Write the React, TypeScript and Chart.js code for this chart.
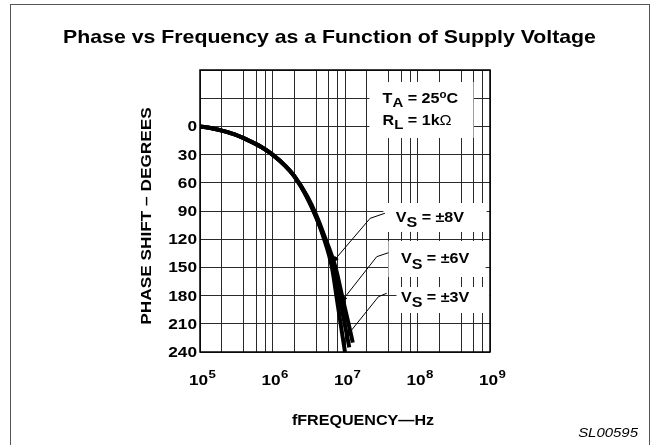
import React, { useEffect, useRef } from 'react';
import { Chart, registerables } from 'chart.js';

Chart.register(...registerables);

// ---------- data ----------
const xTickExponents = [5, 6, 7, 8, 9];
const xGridMantissas = [1, 2, 4, 6, 8];
const yTickValues = [0, 30, 60, 90, 120, 150, 180, 210, 240];

const freqSupply3 = [1e5, 1.5e5, 2e5, 3e5, 4e5, 5e5, 7e5, 1e6, 1.5e6, 2e6, 3e6, 4e6, 5e6, 6.6e6, 7.6e6, 8.7e6, 1.0e7];
const phaseSupply3 = [0, 2.3, 4.5, 8.5, 12.5, 16, 22, 30, 42, 53, 76, 97, 117, 150, 180, 210, 240];

const freqSupply6 = [1e5, 1.5e5, 2e5, 3e5, 4e5, 5e5, 7e5, 1e6, 1.5e6, 2e6, 3e6, 4e6, 5e6, 7.0e6, 8.35e6, 9.9e6, 1.145e7];
const phaseSupply6 = [0, 2.3, 4.5, 8.5, 12.5, 16, 22, 30, 42, 53, 75, 96, 115, 150, 180, 210, 235];

const freqSupply8 = [1e5, 1.5e5, 2e5, 3e5, 4e5, 5e5, 7e5, 1e6, 1.5e6, 2e6, 3e6, 4e6, 5e6, 7.4e6, 9.1e6, 1.12e7, 1.28e7];
const phaseSupply8 = [0, 2.3, 4.5, 8.5, 12.5, 16, 22, 30, 42, 53, 74, 94, 113, 150, 180, 210, 230];

const titleText = 'Phase vs Frequency as a Function of Supply Voltage';
const yTitleText = 'PHASE SHIFT – DEGREES';
const xTitleText = 'fFREQUENCY—Hz';
const figureId = 'SL00595';

// annotation boxes (data coordinates: frequency, degrees)
const labelBoxes = [
  { f0: 2.17e7, f1: 5.93e8, d0: -47.2, d1: 12.3 },
  { f0: 3.39e7, f1: 8.98e8, d0: 81.5, d1: 112.3 },
  { f0: 3.97e7, f1: 8.7e8, d0: 121.9, d1: 160.2 },
  { f0: 5.13e7, f1: 9.9e8, d0: 170.9, d1: 198.5 },
];

const supplyLabels = [
  { value: '±8V', text: [5.0e7, 101.7], start: [3.55e7, 92.4], bend: [2.22e7, 97.8], tip: [6.5e6, 146] },
  { value: '±6V', text: [5.9e7, 145.6], start: [3.97e7, 134.4], bend: [2.74e7, 138.6], tip: [8.6e6, 188] },
  { value: '±3V', text: [5.9e7, 186.5], start: [3.76e7, 177.5], bend: [2.89e7, 181.2], tip: [1.0e7, 225.4] },
];

const condTA = { pos: [3.3e7, -24.9] };
const condRL = { pos: [3.3e7, -1.5] };

// ---------- helpers ----------
const FONT = '"Liberation Sans", Arial, Helvetica, sans-serif';
const STRETCH = 1.15;

type Seg = { t: string; size: number; dy?: number; bold?: boolean; italic?: boolean };

function fontStr(size: number, bold = true, italic = false) {
  return `${italic ? 'italic ' : ''}${bold ? 'bold ' : ''}${size}px ${FONT}`;
}

function textWidth(ctx: CanvasRenderingContext2D, s: string, size: number, bold = true, italic = false) {
  ctx.save();
  ctx.font = fontStr(size, bold, italic);
  const w = ctx.measureText(s).width * STRETCH;
  ctx.restore();
  return w;
}

function drawText(
  ctx: CanvasRenderingContext2D,
  s: string,
  x: number,
  y: number,
  size: number,
  opts: { bold?: boolean; italic?: boolean; align?: CanvasTextAlign; color?: string } = {}
) {
  const { bold = true, italic = false, align = 'left', color = '#000' } = opts;
  ctx.save();
  ctx.translate(x, y);
  ctx.scale(STRETCH, 1);
  ctx.font = fontStr(size, bold, italic);
  ctx.fillStyle = color;
  ctx.textAlign = align;
  ctx.textBaseline = 'alphabetic';
  ctx.fillText(s, 0, 0);
  ctx.restore();
}

function drawSegs(ctx: CanvasRenderingContext2D, segs: Seg[], x: number, y: number) {
  let cx = x;
  for (const sg of segs) {
    const bold = sg.bold !== false;
    drawText(ctx, sg.t, cx, y + (sg.dy || 0), sg.size, { bold });
    cx += textWidth(ctx, sg.t, sg.size, bold);
  }
}

function arrowHead(ctx: CanvasRenderingContext2D, fx: number, fy: number, tx: number, ty: number) {
  const ang = Math.atan2(ty - fy, tx - fx);
  const len = 8;
  const hw = 2.6;
  ctx.save();
  ctx.translate(tx, ty);
  ctx.rotate(ang);
  ctx.beginPath();
  ctx.moveTo(0, 0);
  ctx.lineTo(-len, -hw);
  ctx.lineTo(-len, hw);
  ctx.closePath();
  ctx.fillStyle = '#000';
  ctx.fill();
  ctx.restore();
}

const decoPlugin = {
  id: 'deco',
  beforeDraw(chart: any) {
    const { ctx, width, height } = chart;
    ctx.save();
    ctx.fillStyle = '#fff';
    ctx.fillRect(0, 0, width, height);
    ctx.restore();
  },
  afterDraw(chart: any) {
    const { ctx, chartArea: ca } = chart;
    const xs = chart.scales.x;
    const ys = chart.scales.y;
    const px = (f: number) => xs.getPixelForValue(f);
    const py = (d: number) => ys.getPixelForValue(d);

    // white label boxes over the grid
    ctx.save();
    ctx.fillStyle = '#fff';
    for (const b of labelBoxes) {
      const x0 = px(b.f0), x1 = px(b.f1), y0 = py(b.d0), y1 = py(b.d1);
      ctx.fillRect(x0, y0, x1 - x0, y1 - y0);
    }
    ctx.restore();

    // plot frame
    ctx.save();
    ctx.strokeStyle = '#000';
    ctx.lineWidth = 1.5;
    ctx.strokeRect(ca.left, ca.top, ca.right - ca.left, ca.bottom - ca.top);
    ctx.restore();

    // outer figure frame
    ctx.save();
    ctx.strokeStyle = '#555';
    ctx.lineWidth = 1;
    ctx.strokeRect(10.5, 4.5, 639, 470);
    ctx.restore();

    // title
    drawText(ctx, titleText, 329.5, 43, 18.5, { align: 'center' });

    // y tick labels
    for (const v of yTickValues) {
      drawText(ctx, String(v), ca.left - 3, py(v) + 5, 15, { align: 'right' });
    }

    // x tick labels 10^n
    for (const e of xTickExponents) {
      const cx = px(Math.pow(10, e)) - 1.5;
      const w = textWidth(ctx, '10', 15);
      drawText(ctx, '10', cx, 385, 15, { align: 'center' });
      drawText(ctx, String(e), cx + w / 2 + 0.5, 377.5, 11.5, { align: 'left' });
    }

    // axis titles
    ctx.save();
    ctx.translate(151, 216);
    ctx.rotate(-Math.PI / 2);
    ctx.scale(STRETCH, 1);
    ctx.font = fontStr(15);
    ctx.fillStyle = '#000';
    ctx.textAlign = 'center';
    ctx.textBaseline = 'alphabetic';
    ctx.fillText(yTitleText, 0, 0);
    ctx.restore();

    drawText(ctx, xTitleText, 363, 425, 14, { align: 'center' });
    drawText(ctx, figureId, 638, 437, 13, { align: 'right', bold: false, italic: true });

    // conditions
    drawSegs(ctx, [
      { t: 'T', size: 14 },
      { t: 'A', size: 13, dy: 4 },
      { t: ' = 25', size: 14 },
      { t: 'o', size: 10, dy: -5 },
      { t: 'C', size: 14 },
    ], px(condTA.pos[0]), py(condTA.pos[1]));
    drawSegs(ctx, [
      { t: 'R', size: 14 },
      { t: 'L', size: 13, dy: 4.5 },
      { t: ' = 1k', size: 14 },
      { t: 'Ω', size: 14, bold: false },
    ], px(condRL.pos[0]), py(condRL.pos[1]));

    // supply voltage labels with leaders
    ctx.save();
    ctx.strokeStyle = '#000';
    ctx.lineWidth = 1;
    for (const s of supplyLabels) {
      const sx = px(s.start[0]), sy = py(s.start[1]);
      const bx = px(s.bend[0]), by = py(s.bend[1]);
      const tx = px(s.tip[0]), ty = py(s.tip[1]);
      ctx.beginPath();
      ctx.moveTo(sx, sy);
      ctx.lineTo(bx, by);
      ctx.lineTo(tx, ty);
      ctx.stroke();
      arrowHead(ctx, bx, by, tx, ty);
      drawSegs(ctx, [
        { t: 'V', size: 14 },
        { t: 'S', size: 14, dy: 5.5 },
        { t: ' = ' + s.value, size: 14 },
      ], px(s.text[0]), py(s.text[1]));
    }
    ctx.restore();
  },
};

function toPoints(fs: number[], ps: number[]) {
  return fs.map((f, i) => ({ x: f, y: ps[i] }));
}

export default function App() {
  const ref = useRef<HTMLCanvasElement | null>(null);

  useEffect(() => {
    if (!ref.current) return;
    const lineStyle = {
      borderColor: '#000',
      borderWidth: 4,
      pointRadius: 0,
      fill: false,
      cubicInterpolationMode: 'monotone' as const,
    };
    const chart = new Chart(ref.current, {
      type: 'line',
      data: {
        datasets: [
          { label: 'VS = ±8V', data: toPoints(freqSupply8, phaseSupply8), ...lineStyle },
          { label: 'VS = ±6V', data: toPoints(freqSupply6, phaseSupply6), ...lineStyle },
          { label: 'VS = ±3V', data: toPoints(freqSupply3, phaseSupply3), ...lineStyle },
        ],
      },
      options: {
        animation: false,
        responsive: false,
        devicePixelRatio: 1,
        parsing: false as any,
        layout: { padding: { left: 0, right: 164, top: 70, bottom: 0 } },
        plugins: {
          legend: { display: false },
          tooltip: { enabled: false },
          title: { display: false },
        },
        scales: {
          x: {
            type: 'logarithmic',
            min: 1e5,
            max: 1e9,
            ticks: { display: false },
            grid: { color: '#2a2a2a', lineWidth: 1, drawTicks: false },
            border: { display: false },
            afterBuildTicks: (scale: any) => {
              const t: { value: number }[] = [];
              for (const e of [5, 6, 7, 8]) {
                for (const m of xGridMantissas) t.push({ value: m * Math.pow(10, e) });
              }
              t.push({ value: 1e9 });
              scale.ticks = t;
            },
            afterFit: (scale: any) => {
              scale.height = 93;
            },
          },
          y: {
            type: 'linear',
            reverse: true,
            min: -60,
            max: 240,
            ticks: { display: false, stepSize: 30 },
            grid: { color: '#2a2a2a', lineWidth: 1, drawTicks: false },
            border: { display: false },
            afterFit: (scale: any) => {
              scale.width = 200;
            },
          },
        },
      },
      plugins: [decoPlugin],
    });
    return () => chart.destroy();
  }, []);

  return (
    <div style={{ position: 'absolute', left: 0, top: 0, width: 654, height: 445, background: '#fff' }}>
      <canvas ref={ref} width={654} height={445} style={{ display: 'block' }} />
    </div>
  );
}
